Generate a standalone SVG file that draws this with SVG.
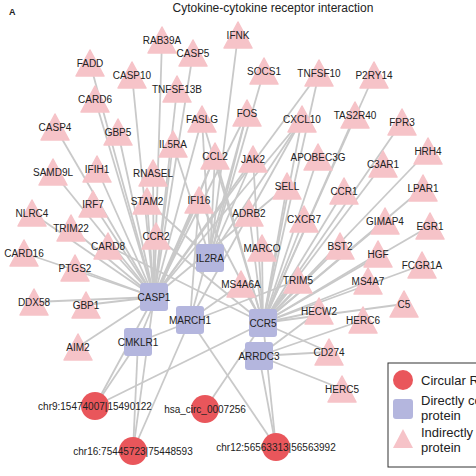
<svg xmlns="http://www.w3.org/2000/svg" xmlns:xlink="http://www.w3.org/1999/xlink" width="476" height="476" viewBox="0 0 476 476">
<style>
text{font-family:"Liberation Sans",Arial,sans-serif;fill:#222}
.lb{font-size:10px;text-anchor:middle}
.tri{fill:#f6c3c8}
.sq{fill:#b4b6de}
.ci{fill:#e9565b}
#edges line{stroke:#c9c9c9;stroke-width:1.8}
.lg{font-size:13px}
</style>
<defs>
<path id="tri" d="M0,-13 L14,13 L-14,13 Z" stroke="#f6c3c8" stroke-width="1.5" stroke-linejoin="round"/>
<rect id="sq" x="-14" y="-14" width="28" height="28" rx="3"/>
</defs>
<rect width="476" height="476" fill="#fff"/>
<text x="9" y="15" style="font-size:9px;font-weight:bold">A</text>
<text x="273" y="12" style="font-size:12px;text-anchor:middle">Cytokine-cytokine receptor interaction</text>
<g id="edges">
<line x1="154" y1="297" x2="162" y2="40"/>
<line x1="154" y1="297" x2="193" y2="53"/>
<line x1="154" y1="297" x2="90" y2="63"/>
<line x1="154" y1="297" x2="132" y2="75"/>
<line x1="154" y1="297" x2="177" y2="89"/>
<line x1="154" y1="297" x2="95" y2="99"/>
<line x1="154" y1="297" x2="55" y2="127"/>
<line x1="154" y1="297" x2="118" y2="132"/>
<line x1="154" y1="297" x2="173" y2="144"/>
<line x1="154" y1="297" x2="53" y2="172"/>
<line x1="154" y1="297" x2="97" y2="169"/>
<line x1="154" y1="297" x2="153" y2="173"/>
<line x1="154" y1="297" x2="93" y2="204"/>
<line x1="154" y1="297" x2="147" y2="201"/>
<line x1="154" y1="297" x2="199" y2="200"/>
<line x1="154" y1="297" x2="32" y2="213"/>
<line x1="154" y1="297" x2="71" y2="228"/>
<line x1="154" y1="297" x2="156" y2="236"/>
<line x1="154" y1="297" x2="108" y2="246"/>
<line x1="154" y1="297" x2="24" y2="253"/>
<line x1="154" y1="297" x2="75" y2="268"/>
<line x1="154" y1="297" x2="34" y2="302"/>
<line x1="154" y1="297" x2="86" y2="305"/>
<line x1="154" y1="297" x2="78" y2="347"/>
<line x1="154" y1="297" x2="319" y2="73"/>
<line x1="154" y1="297" x2="302" y2="119"/>
<line x1="154" y1="297" x2="202" y2="119"/>
<line x1="154" y1="297" x2="253" y2="159"/>
<line x1="154" y1="297" x2="247" y2="113"/>
<line x1="154" y1="297" x2="215" y2="156"/>
<line x1="154" y1="297" x2="287" y2="186"/>
<line x1="210" y1="258" x2="238" y2="35"/>
<line x1="210" y1="258" x2="264" y2="71"/>
<line x1="210" y1="258" x2="247" y2="113"/>
<line x1="210" y1="258" x2="173" y2="144"/>
<line x1="210" y1="258" x2="215" y2="156"/>
<line x1="210" y1="258" x2="253" y2="159"/>
<line x1="210" y1="258" x2="202" y2="119"/>
<line x1="210" y1="258" x2="147" y2="201"/>
<line x1="210" y1="258" x2="302" y2="119"/>
<line x1="263" y1="323" x2="302" y2="119"/>
<line x1="263" y1="323" x2="319" y2="73"/>
<line x1="263" y1="323" x2="374" y2="75"/>
<line x1="263" y1="323" x2="355" y2="115"/>
<line x1="263" y1="323" x2="402" y2="122"/>
<line x1="263" y1="323" x2="428" y2="151"/>
<line x1="263" y1="323" x2="383" y2="164"/>
<line x1="263" y1="323" x2="318" y2="157"/>
<line x1="263" y1="323" x2="287" y2="186"/>
<line x1="263" y1="323" x2="344" y2="191"/>
<line x1="263" y1="323" x2="423" y2="188"/>
<line x1="263" y1="323" x2="249" y2="213"/>
<line x1="263" y1="323" x2="304" y2="219"/>
<line x1="263" y1="323" x2="385" y2="221"/>
<line x1="263" y1="323" x2="430" y2="226"/>
<line x1="263" y1="323" x2="262" y2="248"/>
<line x1="263" y1="323" x2="340" y2="246"/>
<line x1="263" y1="323" x2="378" y2="254"/>
<line x1="263" y1="323" x2="422" y2="265"/>
<line x1="263" y1="323" x2="298" y2="280"/>
<line x1="263" y1="323" x2="368" y2="281"/>
<line x1="263" y1="323" x2="241" y2="284"/>
<line x1="263" y1="323" x2="404" y2="304"/>
<line x1="263" y1="323" x2="319" y2="311"/>
<line x1="263" y1="323" x2="329" y2="352"/>
<line x1="263" y1="323" x2="253" y2="159"/>
<line x1="263" y1="323" x2="202" y2="119"/>
<line x1="263" y1="323" x2="215" y2="156"/>
<line x1="263" y1="323" x2="156" y2="236"/>
<line x1="263" y1="323" x2="199" y2="200"/>
<line x1="263" y1="323" x2="108" y2="246"/>
<line x1="190" y1="320" x2="241" y2="284"/>
<line x1="190" y1="320" x2="247" y2="113"/>
<line x1="190" y1="320" x2="302" y2="119"/>
<line x1="190" y1="320" x2="199" y2="200"/>
<line x1="138" y1="342" x2="298" y2="280"/>
<line x1="138" y1="342" x2="215" y2="156"/>
<line x1="259" y1="356" x2="363" y2="320"/>
<line x1="259" y1="356" x2="342" y2="389"/>
<line x1="259" y1="356" x2="319" y2="311"/>
<line x1="259" y1="356" x2="329" y2="352"/>
<line x1="95" y1="406" x2="138" y2="342"/>
<line x1="95" y1="406" x2="154" y2="297"/>
<line x1="95" y1="406" x2="263" y2="323"/>
<line x1="133" y1="451" x2="138" y2="342"/>
<line x1="133" y1="451" x2="154" y2="297"/>
<line x1="133" y1="451" x2="190" y2="320"/>
<line x1="205" y1="409" x2="263" y2="323"/>
<line x1="276" y1="447" x2="259" y2="356"/>
<line x1="276" y1="447" x2="263" y2="323"/>
<line x1="276" y1="447" x2="190" y2="320"/>
</g>
<g id="n-RAB39A"><use href="#tri" class="tri" x="162" y="40"/><text class="lb" x="162" y="43.5">RAB39A</text></g>
<g id="n-CASP5"><use href="#tri" class="tri" x="193" y="53"/><text class="lb" x="193" y="56.5">CASP5</text></g>
<g id="n-IFNK"><use href="#tri" class="tri" x="238" y="35"/><text class="lb" x="238" y="38.5">IFNK</text></g>
<g id="n-FADD"><use href="#tri" class="tri" x="90" y="63"/><text class="lb" x="90" y="66.5">FADD</text></g>
<g id="n-CASP10"><use href="#tri" class="tri" x="132" y="75"/><text class="lb" x="132" y="78.5">CASP10</text></g>
<g id="n-SOCS1"><use href="#tri" class="tri" x="264" y="71"/><text class="lb" x="264" y="74.5">SOCS1</text></g>
<g id="n-TNFSF10"><use href="#tri" class="tri" x="319" y="73"/><text class="lb" x="319" y="76.5">TNFSF10</text></g>
<g id="n-P2RY14"><use href="#tri" class="tri" x="374" y="75"/><text class="lb" x="374" y="78.5">P2RY14</text></g>
<g id="n-TNFSF13B"><use href="#tri" class="tri" x="177" y="89"/><text class="lb" x="177" y="92.5">TNFSF13B</text></g>
<g id="n-CARD6"><use href="#tri" class="tri" x="95" y="99"/><text class="lb" x="95" y="102.5">CARD6</text></g>
<g id="n-FOS"><use href="#tri" class="tri" x="247" y="113"/><text class="lb" x="247" y="116.5">FOS</text></g>
<g id="n-CXCL10"><use href="#tri" class="tri" x="302" y="119"/><text class="lb" x="302" y="122.5">CXCL10</text></g>
<g id="n-TAS2R40"><use href="#tri" class="tri" x="355" y="115"/><text class="lb" x="355" y="118.5">TAS2R40</text></g>
<g id="n-FPR3"><use href="#tri" class="tri" x="402" y="122"/><text class="lb" x="402" y="125.5">FPR3</text></g>
<g id="n-FASLG"><use href="#tri" class="tri" x="202" y="119"/><text class="lb" x="202" y="122.5">FASLG</text></g>
<g id="n-CASP4"><use href="#tri" class="tri" x="55" y="127"/><text class="lb" x="55" y="130.5">CASP4</text></g>
<g id="n-GBP5"><use href="#tri" class="tri" x="118" y="132"/><text class="lb" x="118" y="135.5">GBP5</text></g>
<g id="n-IL5RA"><use href="#tri" class="tri" x="173" y="144"/><text class="lb" x="173" y="147.5">IL5RA</text></g>
<g id="n-CCL2"><use href="#tri" class="tri" x="215" y="156"/><text class="lb" x="215" y="159.5">CCL2</text></g>
<g id="n-JAK2"><use href="#tri" class="tri" x="253" y="159"/><text class="lb" x="253" y="162.5">JAK2</text></g>
<g id="n-APOBEC3G"><use href="#tri" class="tri" x="318" y="157"/><text class="lb" x="318" y="160.5">APOBEC3G</text></g>
<g id="n-HRH4"><use href="#tri" class="tri" x="428" y="151"/><text class="lb" x="428" y="154.5">HRH4</text></g>
<g id="n-C3AR1"><use href="#tri" class="tri" x="383" y="164"/><text class="lb" x="383" y="167.5">C3AR1</text></g>
<g id="n-SAMD9L"><use href="#tri" class="tri" x="53" y="172"/><text class="lb" x="53" y="175.5">SAMD9L</text></g>
<g id="n-IFIH1"><use href="#tri" class="tri" x="97" y="169"/><text class="lb" x="97" y="172.5">IFIH1</text></g>
<g id="n-RNASEL"><use href="#tri" class="tri" x="153" y="173"/><text class="lb" x="153" y="176.5">RNASEL</text></g>
<g id="n-SELL"><use href="#tri" class="tri" x="287" y="186"/><text class="lb" x="287" y="189.5">SELL</text></g>
<g id="n-CCR1"><use href="#tri" class="tri" x="344" y="191"/><text class="lb" x="344" y="194.5">CCR1</text></g>
<g id="n-LPAR1"><use href="#tri" class="tri" x="423" y="188"/><text class="lb" x="423" y="191.5">LPAR1</text></g>
<g id="n-IRF7"><use href="#tri" class="tri" x="93" y="204"/><text class="lb" x="93" y="207.5">IRF7</text></g>
<g id="n-STAM2"><use href="#tri" class="tri" x="147" y="201"/><text class="lb" x="147" y="204.5">STAM2</text></g>
<g id="n-IFI16"><use href="#tri" class="tri" x="199" y="200"/><text class="lb" x="199" y="203.5">IFI16</text></g>
<g id="n-NLRC4"><use href="#tri" class="tri" x="32" y="213"/><text class="lb" x="32" y="216.5">NLRC4</text></g>
<g id="n-ADRB2"><use href="#tri" class="tri" x="249" y="213"/><text class="lb" x="249" y="216.5">ADRB2</text></g>
<g id="n-CXCR7"><use href="#tri" class="tri" x="304" y="219"/><text class="lb" x="304" y="222.5">CXCR7</text></g>
<g id="n-GIMAP4"><use href="#tri" class="tri" x="385" y="221"/><text class="lb" x="385" y="224.5">GIMAP4</text></g>
<g id="n-EGR1"><use href="#tri" class="tri" x="430" y="226"/><text class="lb" x="430" y="229.5">EGR1</text></g>
<g id="n-TRIM22"><use href="#tri" class="tri" x="71" y="228"/><text class="lb" x="71" y="231.5">TRIM22</text></g>
<g id="n-CCR2"><use href="#tri" class="tri" x="156" y="236"/><text class="lb" x="156" y="239.5">CCR2</text></g>
<g id="n-CARD8"><use href="#tri" class="tri" x="108" y="246"/><text class="lb" x="108" y="249.5">CARD8</text></g>
<g id="n-MARCO"><use href="#tri" class="tri" x="262" y="248"/><text class="lb" x="262" y="251.5">MARCO</text></g>
<g id="n-BST2"><use href="#tri" class="tri" x="340" y="246"/><text class="lb" x="340" y="249.5">BST2</text></g>
<g id="n-HGF"><use href="#tri" class="tri" x="378" y="254"/><text class="lb" x="378" y="257.5">HGF</text></g>
<g id="n-CARD16"><use href="#tri" class="tri" x="24" y="253"/><text class="lb" x="24" y="256.5">CARD16</text></g>
<g id="n-FCGR1A"><use href="#tri" class="tri" x="422" y="265"/><text class="lb" x="422" y="268.5">FCGR1A</text></g>
<g id="n-PTGS2"><use href="#tri" class="tri" x="75" y="268"/><text class="lb" x="75" y="271.5">PTGS2</text></g>
<g id="n-MS4A6A"><use href="#tri" class="tri" x="241" y="284"/><text class="lb" x="241" y="287.5">MS4A6A</text></g>
<g id="n-TRIM5"><use href="#tri" class="tri" x="298" y="280"/><text class="lb" x="298" y="283.5">TRIM5</text></g>
<g id="n-MS4A7"><use href="#tri" class="tri" x="368" y="281"/><text class="lb" x="368" y="284.5">MS4A7</text></g>
<g id="n-DDX58"><use href="#tri" class="tri" x="34" y="302"/><text class="lb" x="34" y="305.5">DDX58</text></g>
<g id="n-GBP1"><use href="#tri" class="tri" x="86" y="305"/><text class="lb" x="86" y="308.5">GBP1</text></g>
<g id="n-C5"><use href="#tri" class="tri" x="404" y="304"/><text class="lb" x="404" y="307.5">C5</text></g>
<g id="n-HECW2"><use href="#tri" class="tri" x="319" y="311"/><text class="lb" x="319" y="314.5">HECW2</text></g>
<g id="n-HERC6"><use href="#tri" class="tri" x="363" y="320"/><text class="lb" x="363" y="323.5">HERC6</text></g>
<g id="n-AIM2"><use href="#tri" class="tri" x="78" y="347"/><text class="lb" x="78" y="350.5">AIM2</text></g>
<g id="n-CD274"><use href="#tri" class="tri" x="329" y="352"/><text class="lb" x="329" y="355.5">CD274</text></g>
<g id="n-HERC5"><use href="#tri" class="tri" x="342" y="389"/><text class="lb" x="342" y="392.5">HERC5</text></g>
<g id="n-IL2RA"><use href="#sq" class="sq" x="210" y="258"/><text class="lb" x="210" y="261.5">IL2RA</text></g>
<g id="n-CASP1"><use href="#sq" class="sq" x="154" y="297"/><text class="lb" x="154" y="300.5">CASP1</text></g>
<g id="n-MARCH1"><use href="#sq" class="sq" x="190" y="320"/><text class="lb" x="190" y="323.5">MARCH1</text></g>
<g id="n-CMKLR1"><use href="#sq" class="sq" x="138" y="342"/><text class="lb" x="138" y="345.5">CMKLR1</text></g>
<g id="n-CCR5"><use href="#sq" class="sq" x="263" y="323"/><text class="lb" x="263" y="326.5">CCR5</text></g>
<g id="n-ARRDC3"><use href="#sq" class="sq" x="259" y="356"/><text class="lb" x="259" y="359.5">ARRDC3</text></g>
<g id="n-chr9"><circle class="ci" cx="95" cy="406" r="14"/><text class="lb" x="95" y="409.5">chr9:15474007|15490122</text></g>
<g id="n-chr16"><circle class="ci" cx="133" cy="451" r="14"/><text class="lb" x="133" y="454.5">chr16:75445723|75448593</text></g>
<g id="n-hsa"><circle class="ci" cx="205" cy="409" r="14"/><text class="lb" x="205" y="412.5">hsa_circ_0007256</text></g>
<g id="n-chr12"><circle class="ci" cx="276" cy="447" r="14"/><text class="lb" x="276" y="450.5">chr12:56563313|56563992</text></g>
<g id="legend">
<rect x="388" y="363" width="100" height="104" fill="#fff" stroke="#333" stroke-width="1"/>
<circle class="ci" cx="403" cy="380" r="10"/>
<text class="lg" x="421" y="385">Circular RNA</text>
<rect class="sq" x="393" y="399" width="20" height="20" rx="3"/>
<text class="lg" x="421" y="405">Directly connected</text>
<text class="lg" x="421" y="420">protein</text>
<path class="tri" d="M403,429 L413,448 L393,448 Z"/>
<text class="lg" x="421" y="437">Indirectly connected</text>
<text class="lg" x="421" y="452">protein</text>
</g>
</svg>
